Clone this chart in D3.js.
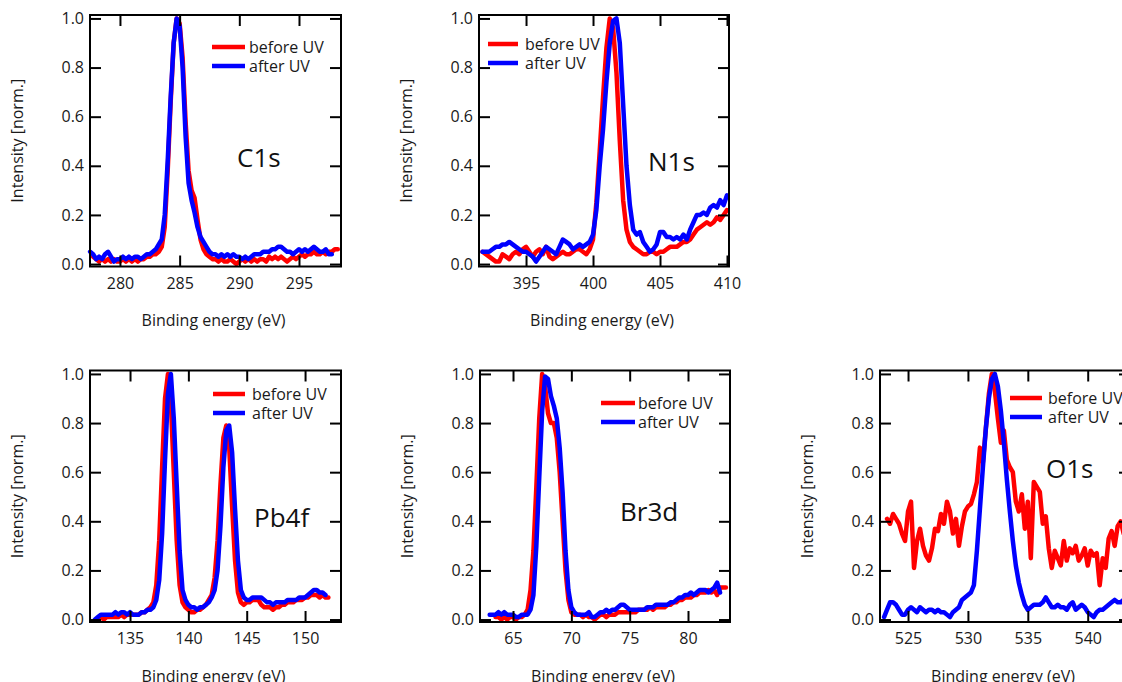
<!DOCTYPE html>
<html>
<head>
<meta charset="utf-8">
<script src="https://cdn.jsdelivr.net/npm/d3@7"></script>
<style>
body{margin:0;background:#fff;overflow:hidden}
svg{display:block;font-family:"Open Sans",sans-serif}
</style>
</head>
<body>
<svg id="chart"></svg>
<script>
/* Energy step shared by every spectrum (eV) */
const step = 0.25
const yTicks = [0, 0.2, 0.4, 0.6, 0.8, 1.0]
const seriesNames = ['before UV', 'after UV']
const xTitle = 'Binding energy (eV)'
const yTitle = 'Intensity [norm.]'

/* C1s */
const c1sTicks = [280, 285, 290, 295]
const c1sBeforeStart = 277.75
const c1sBefore = [
  0.03,0.02,0.01,0.02,0.01,0.02,0.01,0.02,0.01,0.01,
  0.02,0.01,0.02,0.01,0.02,0.01,0.02,0.02,0.03,0.03,
  0.04,0.04,0.05,0.07,0.15,0.38,0.66,0.90,1.00,0.98,
  0.84,0.58,0.38,0.30,0.27,0.18,0.10,0.06,0.04,0.03,
  0.02,0.02,0.01,0.02,0.01,0.01,0.02,0.01,0.00,0.01,
  0.02,0.01,0.02,0.01,0.02,0.01,0.02,0.02,0.01,0.03,
  0.02,0.03,0.02,0.03,0.02,0.01,0.02,0.03,0.02,0.03,
  0.04,0.03,0.04,0.04,0.05,0.04,0.04,0.05,0.04,0.05,
  0.05,0.06,0.06]
const c1sAfterStart = 277.5
const c1sAfter = [
  0.05,0.04,0.02,0.03,0.02,0.04,0.05,0.03,0.01,0.02,
  0.02,0.03,0.02,0.03,0.02,0.03,0.03,0.02,0.03,0.04,
  0.04,0.05,0.06,0.08,0.10,0.20,0.42,0.68,0.90,1.00,
  0.97,0.80,0.52,0.33,0.26,0.21,0.15,0.11,0.09,0.07,
  0.05,0.04,0.04,0.03,0.04,0.03,0.04,0.03,0.04,0.03,
  0.03,0.02,0.03,0.02,0.03,0.04,0.04,0.04,0.05,0.05,
  0.05,0.06,0.06,0.07,0.07,0.06,0.05,0.05,0.04,0.05,
  0.06,0.05,0.06,0.05,0.06,0.07,0.06,0.05,0.05,0.06,
  0.04,0.04]

/* N1s */
const n1sTicks = [395, 400, 405, 410]
const n1sBeforeStart = 391.75
const n1sBefore = [
  0.05,0.04,0.03,0.02,0.01,0.01,0.04,0.03,0.02,0.04,
  0.05,0.04,0.06,0.07,0.05,0.03,0.05,0.06,0.04,0.07,
  0.03,0.02,0.03,0.04,0.05,0.04,0.04,0.05,0.06,0.06,
  0.05,0.04,0.06,0.10,0.25,0.46,0.68,0.88,1.00,0.96,
  0.78,0.50,0.26,0.14,0.09,0.07,0.06,0.05,0.04,0.04,
  0.05,0.05,0.04,0.05,0.05,0.06,0.07,0.07,0.07,0.08,
  0.09,0.09,0.10,0.12,0.14,0.15,0.16,0.17,0.16,0.17,
  0.19,0.18,0.20,0.22]
const n1sAfterStart = 391.75
const n1sAfter = [
  0.05,0.05,0.05,0.06,0.07,0.07,0.08,0.08,0.09,0.08,
  0.07,0.06,0.05,0.05,0.04,0.03,0.01,0.03,0.05,0.07,
  0.06,0.05,0.04,0.07,0.10,0.09,0.08,0.06,0.07,0.08,
  0.07,0.08,0.09,0.12,0.22,0.40,0.55,0.74,0.90,0.99,
  1.00,0.90,0.65,0.40,0.24,0.14,0.12,0.13,0.09,0.07,
  0.05,0.06,0.08,0.13,0.13,0.11,0.11,0.10,0.11,0.10,
  0.12,0.10,0.14,0.17,0.20,0.20,0.21,0.20,0.23,0.24,
  0.23,0.26,0.24,0.28]

/* Pb4f */
const pb4fTicks = [135, 140, 145, 150]
const pb4fBeforeStart = 132.25
const pb4fBefore = [
  0.00,0.01,0.00,0.01,0.01,0.01,0.01,0.01,0.02,0.01,
  0.02,0.02,0.02,0.02,0.02,0.03,0.03,0.04,0.05,0.07,
  0.14,0.32,0.62,0.90,1.00,0.88,0.60,0.32,0.14,0.07,
  0.05,0.04,0.03,0.03,0.04,0.04,0.05,0.06,0.08,0.10,
  0.17,0.32,0.55,0.74,0.79,0.70,0.46,0.24,0.11,0.07,
  0.06,0.07,0.07,0.08,0.08,0.08,0.06,0.05,0.05,0.05,
  0.04,0.05,0.05,0.06,0.06,0.07,0.07,0.07,0.08,0.08,
  0.08,0.09,0.09,0.10,0.10,0.10,0.09,0.10,0.09,0.09]
const pb4fAfterStart = 132.0
const pb4fAfter = [
  0.00,0.01,0.02,0.02,0.02,0.02,0.02,0.03,0.02,0.03,
  0.03,0.02,0.03,0.02,0.02,0.02,0.03,0.03,0.04,0.04,
  0.05,0.08,0.16,0.35,0.65,0.92,1.00,0.82,0.55,0.28,
  0.12,0.08,0.06,0.05,0.05,0.04,0.05,0.05,0.06,0.07,
  0.09,0.12,0.20,0.38,0.62,0.77,0.79,0.68,0.45,0.24,
  0.12,0.09,0.08,0.08,0.09,0.09,0.09,0.09,0.08,0.07,
  0.07,0.06,0.07,0.07,0.07,0.07,0.08,0.08,0.08,0.08,
  0.09,0.09,0.09,0.10,0.11,0.12,0.12,0.11,0.11,0.10]

/* Br3d */
const br3dTicks = [65, 70, 75, 80]
const br3dBeforeStart = 63.5
const br3dBefore = [
  0.01,0.01,0.00,0.01,0.00,0.01,0.01,0.00,0.01,0.01,
  0.02,0.04,0.12,0.28,0.54,0.82,1.00,0.95,0.84,0.80,
  0.80,0.74,0.60,0.40,0.20,0.08,0.03,0.02,0.02,0.02,
  0.01,0.02,0.01,0.01,0.00,0.01,0.02,0.02,0.01,0.02,
  0.02,0.02,0.03,0.03,0.03,0.03,0.03,0.03,0.03,0.04,
  0.04,0.04,0.04,0.05,0.04,0.05,0.05,0.05,0.05,0.06,
  0.06,0.07,0.07,0.08,0.08,0.09,0.09,0.09,0.10,0.10,
  0.11,0.11,0.11,0.12,0.11,0.12,0.10,0.13,0.13,0.13]
const br3dAfterStart = 63.0
const br3dAfter = [
  0.02,0.02,0.02,0.03,0.02,0.03,0.02,0.02,0.02,0.01,
  0.01,0.02,0.02,0.02,0.04,0.10,0.30,0.58,0.85,0.99,
  0.98,0.91,0.87,0.82,0.70,0.52,0.28,0.12,0.05,0.03,
  0.02,0.02,0.02,0.02,0.03,0.01,0.01,0.02,0.03,0.03,
  0.04,0.03,0.04,0.04,0.05,0.06,0.06,0.05,0.04,0.04,
  0.04,0.04,0.04,0.04,0.05,0.05,0.05,0.06,0.06,0.06,
  0.06,0.06,0.07,0.07,0.08,0.09,0.09,0.10,0.10,0.11,
  0.10,0.11,0.12,0.12,0.12,0.11,0.12,0.13,0.15,0.11]

/* O1s */
const o1sTicks = [525, 530, 535, 540]
const o1sBeforeStart = 523.25
const o1sBefore = [
  0.41,0.39,0.43,0.41,0.39,0.35,0.32,0.44,0.48,0.21,
  0.32,0.37,0.30,0.26,0.24,0.29,0.37,0.36,0.43,0.39,
  0.48,0.44,0.35,0.41,0.30,0.38,0.44,0.46,0.47,0.51,
  0.56,0.70,0.64,0.78,0.92,1.00,0.93,0.82,0.72,0.77,
  0.65,0.62,0.60,0.48,0.44,0.51,0.37,0.48,0.25,0.56,
  0.54,0.52,0.39,0.42,0.29,0.21,0.28,0.25,0.22,0.32,
  0.24,0.29,0.27,0.30,0.24,0.26,0.29,0.22,0.28,0.26,
  0.27,0.14,0.25,0.21,0.33,0.36,0.30,0.38,0.40,0.35,
  0.40,0.38]
const o1sAfterStart = 523.0
const o1sAfter = [
  0.01,0.04,0.07,0.07,0.06,0.04,0.02,0.02,0.04,0.05,
  0.04,0.03,0.05,0.04,0.03,0.04,0.04,0.03,0.04,0.03,
  0.03,0.02,0.01,0.03,0.04,0.05,0.08,0.09,0.10,0.11,
  0.14,0.28,0.45,0.62,0.78,0.90,0.98,1.00,0.95,0.85,
  0.72,0.57,0.44,0.32,0.22,0.15,0.10,0.06,0.04,0.05,
  0.06,0.06,0.06,0.07,0.09,0.07,0.05,0.05,0.06,0.05,
  0.05,0.04,0.06,0.07,0.04,0.05,0.06,0.05,0.03,0.02,
  0.01,0.03,0.04,0.04,0.05,0.06,0.07,0.08,0.07,0.07,
  0.08,0.08,0.09]

/* Layout */
const width = 1122, height = 682
const colors = ['#ff0000', '#0000ff']
const yDomain = [-0.01, 1.014]
const fontSize = 16

const panels = [
  {name: 'C1s', left: 90, top: 15, w: 251, h: 251.5, xDomain: [277.49, 298.52], ticks: c1sTicks,
   series: [[c1sBeforeStart, c1sBefore], [c1sAfterStart, c1sAfter]],
   legend: {x: 212, y: 47, len: 33, gap: 37, dy: 19}, tag: {x: 237, y: 158}},
  {name: 'N1s', left: 479, top: 15, w: 250, h: 251.5, xDomain: [391.49, 410.15], ticks: n1sTicks,
   series: [[n1sBeforeStart, n1sBefore], [n1sAfterStart, n1sAfter]],
   legend: {x: 488, y: 44, len: 30, gap: 37, dy: 19}, tag: {x: 648, y: 162}},
  {name: 'Pb4f', left: 90, top: 370.5, w: 251, h: 251.5, xDomain: [131.57, 153.08], ticks: pb4fTicks,
   series: [[pb4fBeforeStart, pb4fBefore], [pb4fAfterStart, pb4fAfter]],
   legend: {x: 213, y: 394, len: 32, gap: 39, dy: 19}, tag: {x: 254, y: 518}},
  {name: 'Br3d', left: 480, top: 370.5, w: 250, h: 251.5, xDomain: [62.17, 83.6], ticks: br3dTicks,
   series: [[br3dBeforeStart, br3dBefore], [br3dAfterStart, br3dAfter]],
   legend: {x: 601, y: 403, len: 34, gap: 37, dy: 19}, tag: {x: 620, y: 512}},
  {name: 'O1s', left: 880, top: 370.5, w: 250, h: 251.5, xDomain: [522.66, 543.53], ticks: o1sTicks,
   series: [[o1sBeforeStart, o1sBefore], [o1sAfterStart, o1sAfter]],
   legend: {x: 1010, y: 398, len: 32, gap: 38, dy: 19}, tag: {x: 1046, y: 469}}
]

const svg = d3.select('#chart')
              .attr('width', width)
              .attr('height', height)

/* Style the tick marks and labels of one axis */
const styleAxis = (g) => {
  g.select('.domain').remove()
  g.attr('font-family', '"Open Sans", sans-serif')
   .attr('font-size', fontSize)
  g.selectAll('.tick line')
   .attr('stroke', '#000')
   .attr('stroke-width', 2)
  g.selectAll('.tick text')
   .attr('fill', '#1a1a1a')
}

/* Draw one spectrum panel */
const drawPanel = (p) => {
  const g = svg.append('g')
  const bottom = p.top + p.h
  const right = p.left + p.w

  const xScale = d3.scaleLinear().domain(p.xDomain).range([p.left, right])
  const yScale = d3.scaleLinear().domain(yDomain).range([bottom, p.top])

  const line = d3.line()
                 .x(d => xScale(d[0]))
                 .y(d => yScale(d[1]))

  /* spectra: red first, blue on top */
  p.series.forEach(([start, values], i) => {
    const points = values.map((v, k) => [start + k * step, v])
    g.append('path')
     .datum(points)
     .attr('fill', 'none')
     .attr('stroke', colors[i])
     .attr('stroke-width', 4.5)
     .attr('stroke-linejoin', 'round')
     .attr('stroke-linecap', 'round')
     .attr('d', line)
  })

  /* axes, ticks pointing inward */
  g.append('g')
   .attr('transform', 'translate(0,' + bottom + ')')
   .call(d3.axisBottom(xScale).tickValues(p.ticks).tickSizeInner(-11).tickSizeOuter(0).tickPadding(11))
   .call(styleAxis)
  g.append('g')
   .attr('transform', 'translate(0,' + p.top + ')')
   .call(d3.axisTop(xScale).tickValues(p.ticks).tickSizeInner(-11).tickSizeOuter(0).tickFormat(() => ''))
   .call(styleAxis)
  g.append('g')
   .attr('transform', 'translate(' + p.left + ',0)')
   .call(d3.axisLeft(yScale).tickValues(yTicks).tickSizeInner(-11).tickSizeOuter(0).tickPadding(6).tickFormat(d3.format('.1f')))
   .call(styleAxis)
  g.append('g')
   .attr('transform', 'translate(' + right + ',0)')
   .call(d3.axisRight(yScale).tickValues(yTicks).tickSizeInner(-11).tickSizeOuter(0).tickFormat(() => ''))
   .call(styleAxis)

  /* frame */
  g.append('rect')
   .attr('x', p.left)
   .attr('y', p.top)
   .attr('width', p.w)
   .attr('height', p.h)
   .attr('fill', 'none')
   .attr('stroke', '#000')
   .attr('stroke-width', 2)

  /* axis titles */
  g.append('text')
   .attr('x', p.left + p.w / 2 - 2)
   .attr('y', bottom + 54)
   .attr('dy', '0.35em')
   .attr('text-anchor', 'middle')
   .attr('font-size', fontSize)
   .attr('fill', '#1a1a1a')
   .text(xTitle)
  g.append('text')
   .attr('transform', 'translate(' + (p.left - 73) + ',' + (p.top + p.h / 2) + ') rotate(-90)')
   .attr('dy', '0.35em')
   .attr('text-anchor', 'middle')
   .attr('font-size', fontSize)
   .attr('fill', '#1a1a1a')
   .text(yTitle)

  /* legend */
  seriesNames.forEach((name, i) => {
    const ly = p.legend.y + i * p.legend.dy
    g.append('line')
     .attr('x1', p.legend.x)
     .attr('x2', p.legend.x + p.legend.len)
     .attr('y1', ly)
     .attr('y2', ly)
     .attr('stroke', colors[i])
     .attr('stroke-width', 4.5)
    g.append('text')
     .attr('x', p.legend.x + p.legend.gap)
     .attr('y', ly)
     .attr('dy', '0.35em')
     .attr('font-size', fontSize)
     .attr('fill', '#1a1a1a')
     .text(name)
  })

  /* core level name */
  g.append('text')
   .attr('x', p.tag.x)
   .attr('y', p.tag.y)
   .attr('dy', '0.35em')
   .attr('font-size', 26)
   .attr('fill', '#111')
   .text(p.name)
}

panels.forEach(drawPanel)
</script>
</body>
</html>
